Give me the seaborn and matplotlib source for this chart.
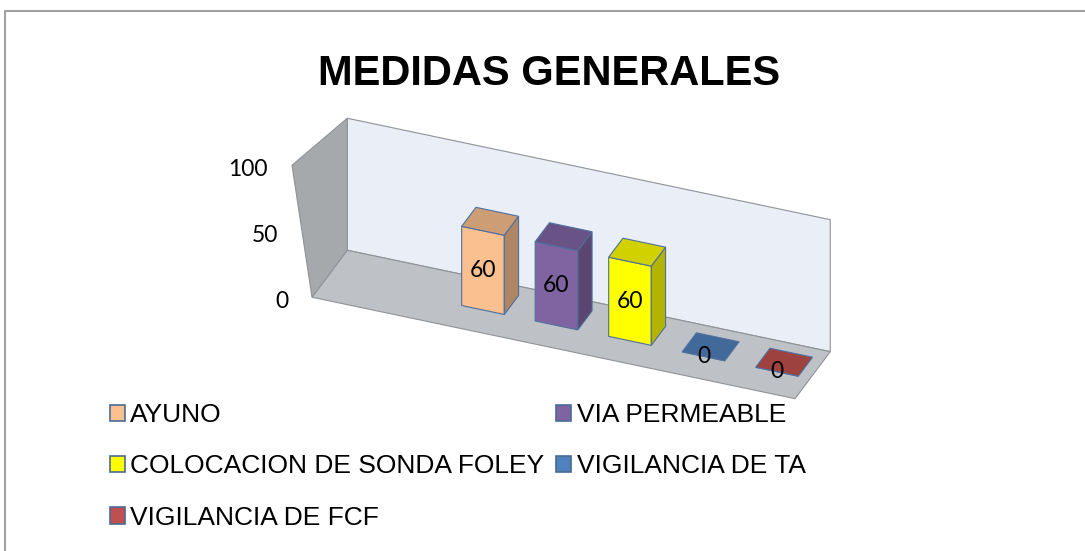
import numpy as np
import pandas as pd
import matplotlib
matplotlib.use("Agg")
import matplotlib.pyplot as plt
import seaborn as sns
from matplotlib.patches import Polygon, Patch, Rectangle
from matplotlib.lines import Line2D
from matplotlib.transforms import Affine2D
from matplotlib.colors import to_rgb

# --- data ---
categories = ["AYUNO", "VIA PERMEABLE", "COLOCACION DE SONDA FOLEY",
              "VIGILANCIA DE TA", "VIGILANCIA DE FCF"]
values = [60, 60, 60, 0, 0]
colors = ["#fac090", "#8064a2", "#ffff00", "#4f81bd", "#c0504d"]
y_ticks = [0, 50, 100]
title = "MEDIDAS GENERALES"

df = pd.DataFrame({"medida": categories, "valor": values})

sns.set_style("white")
plt.rcParams["font.family"] = ["Liberation Sans", "DejaVu Sans"]
plt.rcParams["text.color"] = "black"

W, H = 1085, 551
fig = plt.figure(figsize=(W / 100, H / 100), dpi=100)

# axes placed so one category = 73.5 px, one unit = 1.32 px
px_cat, px_val = 73.5, 1.32
ax = fig.add_axes([(483 - 0.5 * px_cat) / W, (H - 310) / H,
                   5 * px_cat / W, 100 * px_val / H])

# fake 3D: floor slopes down to the right, depth goes up-right
slope = 0.21
s = -slope * px_cat / px_val
kx = 0.75


def proj(x, y, z):
    return (x + kx * z / px_cat, y + s * x + z / px_val)


def shade(c, f):
    return tuple(v * f for v in to_rgb(c))


z_front, z_back, z_bar = -20, 27, 19
x_left = (327 - 483) / px_cat
x_right = (810 - 483) / px_cat
y_top = y_ticks[-1]
lean = 20 / px_cat  # left wall front edge leans left towards the top

# bars (front faces) from seaborn
sns.barplot(data=df, x="medida", y="valor", hue="medida", order=categories,
            hue_order=categories, palette=colors, saturation=1, width=0.58,
            edgecolor="#4f6f9f", linewidth=0.8, legend=False, ax=ax)
ax.set_xlim(-0.5, 4.5)
ax.set_ylim(0, 100)
bars = [p for p in ax.patches if isinstance(p, Rectangle)]

wall_edge = "#8f9297"
lt_x, lt_y = proj(x_left, y_top, z_front)
back_wall = [proj(x_left, 0, z_back), proj(x_right, 0, z_back),
             proj(x_right, y_top, z_back), proj(x_left, y_top, z_back)]
floor = [proj(x_left, 0, z_front), proj(x_right, 0, z_front),
         proj(x_right, 0, z_back), proj(x_left, 0, z_back)]
left_wall = [proj(x_left, 0, z_front), proj(x_left, 0, z_back),
             proj(x_left, y_top, z_back), (lt_x - lean, lt_y)]
for pts, fc in [(back_wall, "#e9eef7"), (floor, "#bec1c5"), (left_wall, "#a6a9ac")]:
    ax.add_patch(Polygon(pts, closed=True, facecolor=fc, edgecolor=wall_edge,
                         linewidth=0.8, zorder=0.5, clip_on=False))

skew = Affine2D(np.array([[1, 0, 0], [s, 1, 0], [0, 0, 1]]))
for bar, col, val in zip(bars, colors, values):
    bar.set_transform(skew + ax.transData)
    bar.set_clip_on(False)
    bar.set_zorder(3)
    x0, w, h = bar.get_x(), bar.get_width(), bar.get_height()
    side = [proj(x0 + w, 0, 0), proj(x0 + w, h, 0),
            proj(x0 + w, h, z_bar), proj(x0 + w, 0, z_bar)]
    top = [proj(x0, h, 0), proj(x0 + w, h, 0),
           proj(x0 + w, h, z_bar), proj(x0, h, z_bar)]
    if h > 0:
        ax.add_patch(Polygon(side, closed=True, facecolor=shade(col, 0.70),
                             edgecolor="#4f6f9f", linewidth=0.8, zorder=3,
                             clip_on=False))
    ax.add_patch(Polygon(top, closed=True, facecolor=shade(col, 0.82),
                         edgecolor="#4f6f9f", linewidth=0.8, zorder=3,
                         clip_on=False))
    cx, cy = proj(x0 + w / 2, h / 2, 0)
    ax.text(cx, cy, f"{val}", ha="center", va="center", fontsize=16.5,
            family="Lato", color="black", zorder=4, clip_on=False)

# value axis labels beside the left wall's front edge
for t in y_ticks:
    tx, ty = proj(x_left, t, z_front)
    tx -= 24 / px_cat + lean * t / y_top
    ax.text(tx, ty - 3, f"{t}", ha="right", va="center", fontsize=16.5,
            family="Lato", color="black")

ax.set_axis_off()

# title
fig.text(549 / W, 1 - 85 / H, title, ha="center", va="baseline",
         fontsize=30, fontweight="bold", color="black")

# legend (row-major order like the original)
handles = [Patch(facecolor=c, edgecolor="#4a6b96", linewidth=1.2) for c in colors]
order = [0, 2, 4, 1, 3]
fig.legend([handles[i] for i in order], [categories[i] for i in order],
           ncol=2, loc="upper left", bbox_to_anchor=(110 / W, 1 - 403 / H),
           frameon=False, fontsize=19, handlelength=0.57, handleheight=0.57,
           handletextpad=0.2, labelspacing=1.04, columnspacing=0.45,
           borderpad=0, borderaxespad=0, labelcolor="black")

# chart area border (top and left only are visible)
fig.add_artist(Line2D([5 / W, 5 / W, 1], [0, 1 - 11 / H, 1 - 11 / H],
                      transform=fig.transFigure, color="#a0a0a0", linewidth=1.5))

fig.savefig("out.png", dpi=100)
